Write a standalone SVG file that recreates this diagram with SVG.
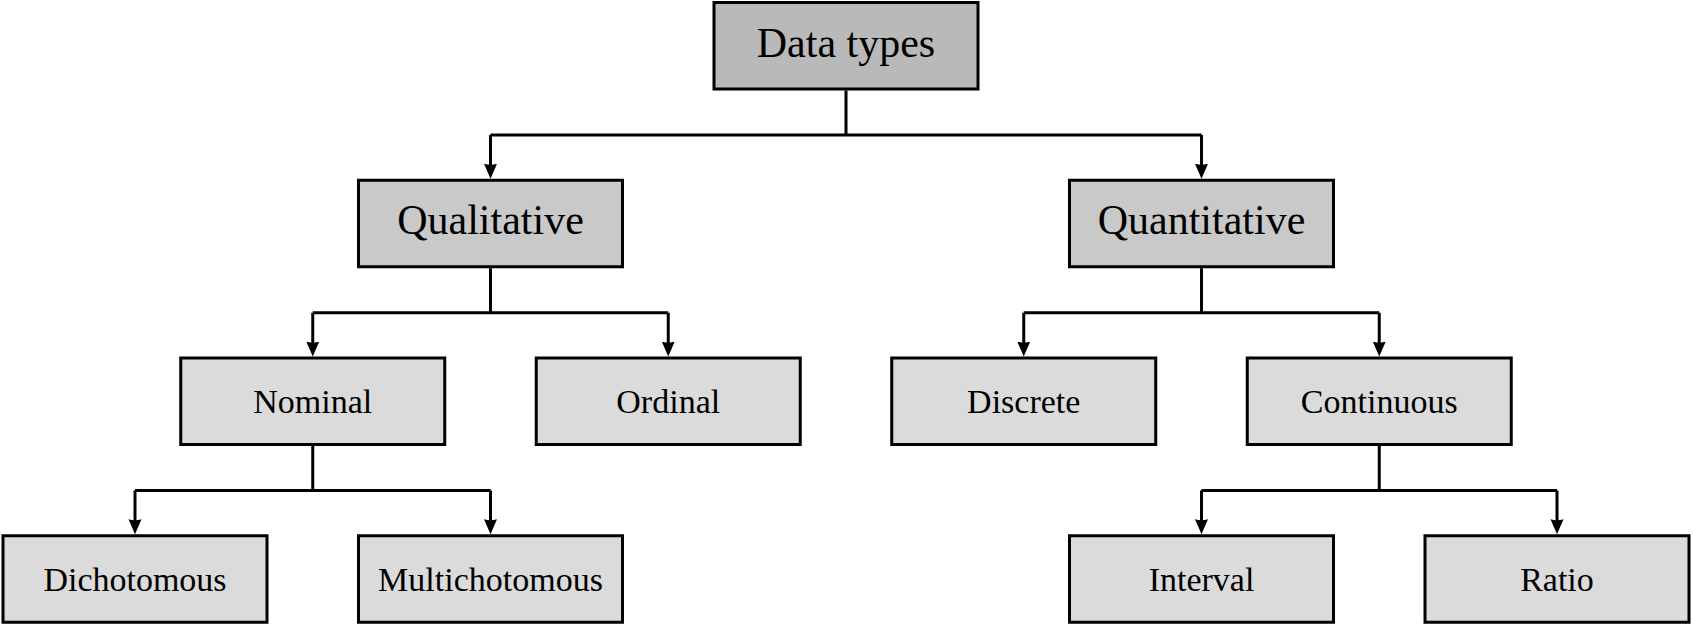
<svg xmlns="http://www.w3.org/2000/svg" width="1693" height="626" viewBox="0 0 1693 626">
<style>
.box{stroke:#000;stroke-width:3}
.l0{fill:#b9b9b9}
.l1{fill:#c9c9c9}
.l2{fill:#dbdbdb}
.big{font-family:"Liberation Serif","Times New Roman",serif;font-size:42px;fill:#000;text-anchor:middle}
.small{font-family:"Liberation Serif","Times New Roman",serif;font-size:34px;fill:#000;text-anchor:middle}
.conn{fill:none;stroke:#000;stroke-width:3}
</style>
<defs>
<marker id="arr" markerUnits="userSpaceOnUse" markerWidth="16" markerHeight="14" viewBox="0 0 16 14" refX="7" refY="7" orient="auto">
<path d="M0,0.5 L15,7 L0,13.5 Q2,7 0,0.5 Z" fill="#000"/>
</marker>
</defs>
<rect width="1693" height="626" fill="#fff"/>
<g id="connectors">
<path class="conn" d="M846,90.5 V135 H490.5 M846,135 H1201.5"/>
<path class="conn" marker-end="url(#arr)" d="M490.5,135 V170.75"/>
<path class="conn" marker-end="url(#arr)" d="M1201.5,135 V170.75"/>
<path class="conn" d="M490.5,268.25 V312.75 H312.75 M490.5,312.75 H668.25"/>
<path class="conn" marker-end="url(#arr)" d="M312.75,312.75 V348.5"/>
<path class="conn" marker-end="url(#arr)" d="M668.25,312.75 V348.5"/>
<path class="conn" d="M1201.5,268.25 V312.75 H1023.75 M1201.5,312.75 H1379.25"/>
<path class="conn" marker-end="url(#arr)" d="M1023.75,312.75 V348.5"/>
<path class="conn" marker-end="url(#arr)" d="M1379.25,312.75 V348.5"/>
<path class="conn" d="M312.75,446 V490.5 H135 M312.75,490.5 H490.5"/>
<path class="conn" marker-end="url(#arr)" d="M135,490.5 V526.25"/>
<path class="conn" marker-end="url(#arr)" d="M490.5,490.5 V526.25"/>
<path class="conn" d="M1379.25,446 V490.5 H1201.5 M1379.25,490.5 H1557"/>
<path class="conn" marker-end="url(#arr)" d="M1201.5,490.5 V526.25"/>
<path class="conn" marker-end="url(#arr)" d="M1557,490.5 V526.25"/>
</g>
<g id="datatypes"><rect class="box l0" x="714" y="2.5" width="264" height="86.5"/><text class="big" x="846" y="56.5">Data types</text></g>
<g id="qualitative"><rect class="box l1" x="358.5" y="180.25" width="264" height="86.5"/><text class="big" x="490.5" y="234">Qualitative</text></g>
<g id="quantitative"><rect class="box l1" x="1069.5" y="180.25" width="264" height="86.5"/><text class="big" x="1201.5" y="234">Quantitative</text></g>
<g id="nominal"><rect class="box l2" x="180.75" y="358" width="264" height="86.5"/><text class="small" x="312.75" y="412.5">Nominal</text></g>
<g id="ordinal"><rect class="box l2" x="536.25" y="358" width="264" height="86.5"/><text class="small" x="668.25" y="412.5">Ordinal</text></g>
<g id="discrete"><rect class="box l2" x="891.75" y="358" width="264" height="86.5"/><text class="small" x="1023.75" y="412.5">Discrete</text></g>
<g id="continuous"><rect class="box l2" x="1247.25" y="358" width="264" height="86.5"/><text class="small" x="1379.25" y="412.5">Continuous</text></g>
<g id="dichotomous"><rect class="box l2" x="3" y="535.75" width="264" height="86.5"/><text class="small" x="135" y="590.5">Dichotomous</text></g>
<g id="multichotomous"><rect class="box l2" x="358.5" y="535.75" width="264" height="86.5"/><text class="small" x="490.5" y="590.5">Multichotomous</text></g>
<g id="interval"><rect class="box l2" x="1069.5" y="535.75" width="264" height="86.5"/><text class="small" x="1201.5" y="590.5">Interval</text></g>
<g id="ratio"><rect class="box l2" x="1425" y="535.75" width="264" height="86.5"/><text class="small" x="1557" y="590.5">Ratio</text></g>
</svg>
